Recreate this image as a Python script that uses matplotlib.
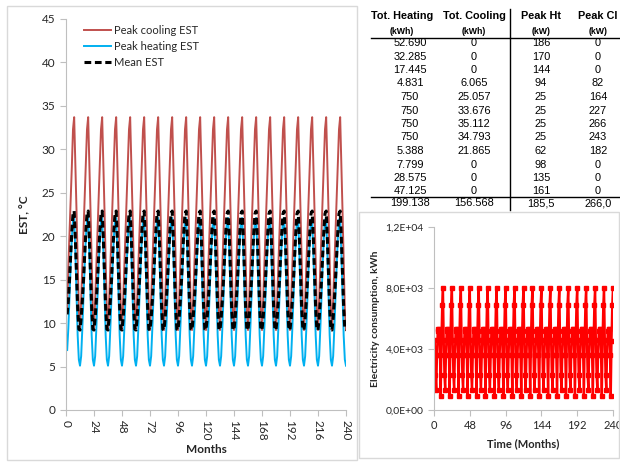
import numpy as np
import matplotlib
matplotlib.use('Agg')
import matplotlib.pyplot as plt
from matplotlib.patches import Rectangle
from matplotlib.lines import Line2D

# ---- data ----
# EST profile (chart months 1..12), repeated for the 20 simulated years
est_cooling_year = [12.6, 16.5, 20.3, 24.1, 28.0, 32.3, 33.7, 28.5, 23.0, 17.5, 11.5, 9.2]
est_heating_year = [6.2, 9.4, 13.0, 16.6, 19.8, 21.9, 22.1, 18.2, 13.2, 8.6, 5.8, 5.1]
est_mean_year = [10.6, 12.6, 15.0, 17.8, 20.6, 22.6, 22.9, 19.8, 15.8, 11.8, 9.3, 9.2]
# first month of the simulation (undisturbed ground)
est_first = {'cool': 11.2, 'heat': 6.9, 'mean': 11.0}

# monthly electricity, kWh (chart months 1..12)
elec_year = [4600, 2300, 1300, 3600, 5200, 5300, 5300, 3600, 900, 4500, 6900, 8000]
n_years = 20

table_head = ['Tot. Heating', 'Tot. Cooling', 'Peak Ht', 'Peak Cl']
table_units = ['(kWh)', '(kWh)', '(kW)', '(kW)']
tot_heating = ['52.690', '32.285', '17.445', '4.831', '750', '750', '750', '750',
               '5.388', '7.799', '28.575', '47.125']
tot_cooling = ['0', '0', '0', '6.065', '25.057', '33.676', '35.112', '34.793',
               '21.865', '0', '0', '0']
peak_ht = ['186', '170', '144', '94', '25', '25', '25', '25', '62', '98', '135', '161']
peak_cl = ['0', '0', '0', '82', '164', '227', '266', '243', '182', '0', '0', '0']
totals = ['199.138', '156.568', '185,5', '266,0']

months = np.arange(1, 12 * n_years + 1)
est_cool = np.tile(est_cooling_year, n_years)
est_heat = np.tile(est_heating_year, n_years)
est_mean = np.tile(est_mean_year, n_years)
est_cool[0] = est_first['cool']
est_heat[0] = est_first['heat']
est_mean[0] = est_first['mean']
elec = np.tile(elec_year, n_years)

W, H = 620, 462
fig = plt.figure(figsize=(W / 100, H / 100), dpi=100)


def px_box(x0, y0, x1, y1):
    # pixel box (top-left origin) -> figure fraction rect
    return [x0 / W, 1 - y1 / H, (x1 - x0) / W, (y1 - y0) / H]


chart_font = 'Lato'
grey = '#BFBFBF'
txt = '#262626'

# chart area borders
for x0, y0, x1, y1 in [(7, 6, 357, 460), (359, 212, 619, 458)]:
    fig.patches.append(Rectangle((x0 / W, 1 - y1 / H), (x1 - x0) / W, (y1 - y0) / H,
                                 transform=fig.transFigure, fill=False,
                                 edgecolor='#D9D9D9', lw=1))

# ---- left chart: EST ----
ax = fig.add_axes(px_box(66, 19, 346, 410))
ax.plot(months, est_cool, color='#C0504D', lw=1.4, label='Peak cooling EST')
ax.plot(months, est_heat, color='#00B0F0', lw=1.4, label='Peak heating EST')
ax.plot(months, est_mean, color='black', lw=2.2, ls=(0, (2.2, 1.2)), label='Mean EST')
ax.set_xlim(0, 240)
ax.set_ylim(0, 45)
ax.set_xticks(np.arange(0, 241, 24))
ax.set_yticks(np.arange(0, 46, 5))
for s in ['top', 'right']:
    ax.spines[s].set_visible(False)
for s in ['left', 'bottom']:
    ax.spines[s].set_color(grey)
ax.tick_params(colors=grey, labelcolor=txt, length=4, width=0.8, labelsize=8.5)
for lab in ax.get_xticklabels():
    lab.set_rotation(-90)
    lab.set_family(chart_font)
for lab in ax.get_yticklabels():
    lab.set_family(chart_font)
ax.set_xlabel('Months', fontsize=8.5, fontweight='bold', family=chart_font, color=txt, labelpad=2)
ax.set_ylabel('EST, °C', fontsize=8.5, fontweight='bold', family=chart_font, color=txt, labelpad=8)
leg = ax.legend(loc='upper left', bbox_to_anchor=(0.045, 1.0), frameon=False,
                prop={'family': chart_font, 'size': 8}, handlelength=2.4,
                handletextpad=0.25, labelspacing=0.45, borderpad=0)
for t in leg.get_texts():
    t.set_color(txt)

# ---- table ----
col_x = [402, 474, 541, 598]
data_x = [410, 474, 541, 598]
cols = [tot_heating, tot_cooling, peak_ht, peak_cl]
tf = 'Liberation Sans'


def ftxt(x, y, s, **kw):
    fig.text(x / W, 1 - y / H, s, ha='center', va='center', family=tf, color='black', **kw)


for i in range(4):
    ftxt(col_x[i], 16, table_head[i], fontsize=7.8, fontweight='bold')
    ftxt(col_x[i], 31, table_units[i], fontsize=6.3, fontweight='bold')
    for r, v in enumerate(cols[i]):
        ftxt(data_x[i], 43 + 13.5 * r, v, fontsize=7.9)
    ftxt(data_x[i], 203.5, totals[i], fontsize=7.9)

for yy in [37.7, 196.8]:
    fig.lines.append(Line2D([371 / W, 620 / W], [1 - yy / H] * 2, color='black', lw=1,
                            transform=fig.transFigure))
fig.lines.append(Line2D([510 / W] * 2, [1 - 9 / H, 1 - 210 / H], color='black', lw=1,
                        transform=fig.transFigure))

# ---- right chart: electricity ----
ax2 = fig.add_axes(px_box(434, 227, 613, 410))
ax2.plot(months, elec, color='#FF0000', lw=1.7, marker='s', ms=2.2, mec='#FF0000')
ax2.set_xlim(0, 240)
ax2.set_ylim(0, 12000)
ax2.set_xticks(np.arange(0, 241, 48))
ax2.set_yticks([0, 4000, 8000, 12000])
ax2.yaxis.set_major_formatter(lambda v, p: f'{v:.1E}'.replace('.', ','))
for s in ['top', 'right']:
    ax2.spines[s].set_visible(False)
for s in ['left', 'bottom']:
    ax2.spines[s].set_color(grey)
ax2.tick_params(colors=grey, labelcolor=txt, length=4, width=0.8, labelsize=7.5)
ax2.tick_params(axis='x', labelsize=8)
for lab in ax2.get_xticklabels() + ax2.get_yticklabels():
    lab.set_family(chart_font)
ax2.set_xlabel('Time (Months)', fontsize=8, fontweight='bold', family=chart_font, color=txt, labelpad=5)
ax2.set_ylabel('Electricity consumption, kWh', fontsize=7.5, fontweight='bold',
               family=chart_font, color=txt, labelpad=4)

fig.savefig('out.png', dpi=100)
